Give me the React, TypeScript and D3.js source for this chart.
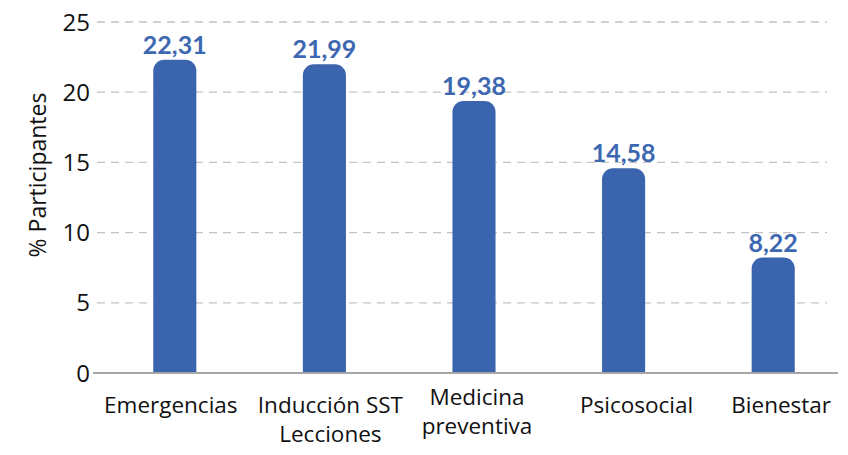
import React from "react";
import * as d3 from "d3";

const categories: string[][] = [
  ["Emergencias"],
  ["Inducción SST", "Lecciones"],
  ["Medicina", "preventiva"],
  ["Psicosocial"],
  ["Bienestar"],
];
const values: number[] = [22.31, 21.99, 19.38, 14.58, 8.22];
const yTicks: number[] = [0, 5, 10, 15, 20, 25];

// layout only: horizontal nudges of the category labels and first-line baselines
const labelShift: number[] = [-4, 6, 3, 13, 8];
const labelBase: number[] = [413, 413, 405, 413, 413];

const W = 848;
const H = 455;
const BAR = "#3A64AD";
const LABEL = "#3D68B1";
const FONT = "'Open Sans', sans-serif";
const VFONT = "Lato, 'Open Sans', sans-serif";

function topRounded(x: number, y: number, w: number, h: number, r: number) {
  const rr = Math.min(r, w / 2, h);
  const p = d3.path();
  p.moveTo(x, y + h);
  p.lineTo(x, y + rr);
  p.arcTo(x, y, x + rr, y, rr);
  p.lineTo(x + w - rr, y);
  p.arcTo(x + w, y, x + w, y + rr, rr);
  p.lineTo(x + w, y + h);
  p.closePath();
  return p.toString();
}

export default function App() {
  const y = d3.scaleLinear().domain([0, 25]).range([373, 22]);
  const x = d3
    .scaleBand<number>()
    .domain(d3.range(values.length))
    .range([100, 848])
    .paddingInner(0.712)
    .paddingOuter(0.356);
  const bw = x.bandwidth();

  return (
    <svg
      width={W}
      height={H}
      style={{ position: "absolute", left: 0, top: 0, background: "#fff" }}
    >
      {yTicks.map((t) =>
        t === 0 ? null : (
          <line
            key={"g" + t}
            x1={97}
            x2={827}
            y1={y(t)}
            y2={y(t)}
            stroke="#C4C4C4"
            strokeWidth={1.3}
            strokeDasharray="8,6"
          />
        )
      )}
      {yTicks.map((t) => (
        <text
          key={"t" + t}
          x={90}
          y={y(t)}
          dy="0.36em"
          textAnchor="end"
          fontFamily={FONT}
          fontSize={24}
          fill="#111"
        >
          {t}
        </text>
      ))}
      <text
        transform={`translate(46,175) rotate(-90)`}
        textAnchor="middle"
        fontFamily={FONT}
        fontSize={23}
        fill="#111"
      >
        % Participantes
      </text>
      {values.map((v, i) => {
        const bx = x(i)!;
        const top = y(v);
        return (
          <g key={"b" + i}>
            <path d={topRounded(bx, top, bw, y(0) - top, 11)} fill={BAR} />
            <text
              x={bx + bw / 2}
              y={top - 6}
              textAnchor="middle"
              fontFamily={VFONT}
              fontWeight={700}
              fontSize={25}
              fill={LABEL}
            >
              {d3.format(".2f")(v).replace(".", ",")}
            </text>
          </g>
        );
      })}
      <line x1={93} x2={838} y1={y(0)} y2={y(0)} stroke="#A6A6A6" strokeWidth={2} />
      {categories.map((lines, i) => {
        const cx = x(i)! + bw / 2 + labelShift[i];
        return (
          <text
            key={"c" + i}
            textAnchor="middle"
            fontFamily={FONT}
            fontSize={22.5}
            fill="#111"
          >
            {lines.map((l, j) => (
              <tspan key={j} x={cx} y={labelBase[i] + j * 29}>
                {l}
              </tspan>
            ))}
          </text>
        );
      })}
    </svg>
  );
}
